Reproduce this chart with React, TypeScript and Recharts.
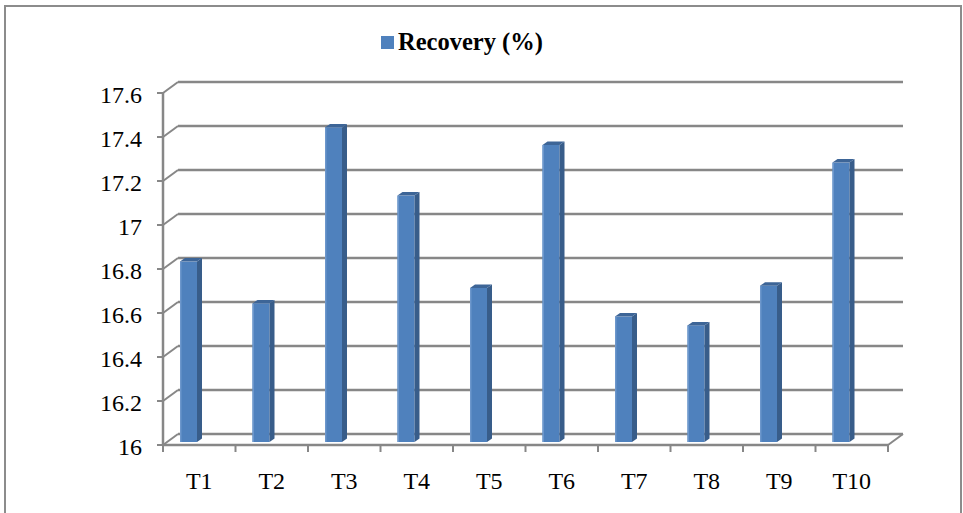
import React from 'react';
import { Bar, BarChart, CartesianGrid, Legend, XAxis, YAxis } from 'recharts';

const categories = ['T1', 'T2', 'T3', 'T4', 'T5', 'T6', 'T7', 'T8', 'T9', 'T10'];
const recovery = [16.82, 16.63, 17.43, 17.12, 16.7, 17.35, 16.57, 16.53, 16.71, 17.27];
const yTicks = [16, 16.2, 16.4, 16.6, 16.8, 17, 17.2, 17.4, 17.6];
const seriesName = 'Recovery (%)';

const data = categories.map((name, i) => ({ name, value: recovery[i] }));

// fake 3d: back wall sits up/right of the front axes
const DX = 15;
const DY = 11;
const LINE = '#878787';
const FONT = '"Liberation Serif", "Times New Roman", serif';
const PLOT_W = 725;
const BAND = PLOT_W / categories.length;

const fmt = (v: number) => String(Math.round(v * 10) / 10);

function BackGridLine(props: any) {
  const { x1, y1, x2, y2 } = props;
  return <line x1={x1 + DX} y1={y1 - DY} x2={x2 + DX} y2={y2 - DY} stroke={LINE} strokeWidth={2.5} />;
}

function YTick({ x, y, payload }: any) {
  return (
    <g>
      <line x1={x} y1={y} x2={x + DX} y2={y - DY} stroke={LINE} strokeWidth={2} />
      <line x1={x - 6} y1={y} x2={x} y2={y} stroke={LINE} strokeWidth={2} />
      <text x={x - 21} y={y + 10} textAnchor="end" fontSize={24} fontFamily={FONT} fill="#000">
        {fmt(payload.value)}
      </text>
    </g>
  );
}

function XTick({ x, y, payload }: any) {
  const half = BAND / 2;
  const isLast = payload.value === categories[categories.length - 1];
  return (
    <g>
      <line x1={x - half} y1={y} x2={x - half} y2={y + 7} stroke={LINE} strokeWidth={2} />
      {isLast && (
        <>
          <line x1={x + half} y1={y} x2={x + half} y2={y + 7} stroke={LINE} strokeWidth={2} />
          <line x1={x + half} y1={y} x2={x + half + DX} y2={y - DY} stroke={LINE} strokeWidth={2} />
        </>
      )}
      <text x={x} y={y + 44} textAnchor="middle" fontSize={24} fontFamily={FONT} fill="#000">
        {payload.value}
      </text>
    </g>
  );
}

function Column3D(props: any) {
  const { x, y, width, height } = props;
  const fx = x - 11;
  const top = y - 3;
  const bottom = y + height - 3;
  const d = 5;
  const up = 3.5;
  return (
    <g>
      <rect x={fx} y={top} width={width} height={bottom - top} fill="#4f81bd" />
      <rect x={fx} y={top} width={1.5} height={bottom - top} fill="#6d97cc" />
      <polygon
        points={`${fx + width},${top} ${fx + width + d},${top - up} ${fx + width + d},${bottom - up} ${fx + width},${bottom}`}
        fill="#385d8a"
      />
      <polygon
        points={`${fx},${top} ${fx + d},${top - up} ${fx + width + d},${top - up} ${fx + width},${top}`}
        fill="#3d6597"
      />
    </g>
  );
}

function LegendBox({ payload }: any) {
  return (
    <div style={{ display: 'flex', alignItems: 'center', fontFamily: FONT }}>
      {(payload || []).map((p: any) => (
        <div key={p.value} style={{ display: 'flex', alignItems: 'center' }}>
          <span style={{ width: 13, height: 13, background: '#4f81bd', marginRight: 4 }} />
          <span style={{ fontSize: 24.5, fontWeight: 'bold', lineHeight: '24px' }}>{p.value}</span>
        </div>
      ))}
    </div>
  );
}

export default function App() {
  return (
    <div style={{ position: 'absolute', left: 0, top: 0, width: 963, height: 513, overflow: 'hidden', background: '#fff' }}>
      <div
        style={{
          position: 'absolute',
          left: 4,
          top: 5,
          width: 954,
          height: 540,
          border: '2px solid #8c8c8c',
        }}
      />
      <div style={{ position: 'absolute', left: 0, top: 0 }}>
        <BarChart width={963} height={513} data={data} margin={{ top: 93, right: 75, bottom: 28, left: 83 }}>
          <CartesianGrid vertical={false} horizontal={BackGridLine} />
          <XAxis
            dataKey="name"
            height={40}
            interval={0}
            tickSize={0}
            tickMargin={0}
            tickLine={false}
            axisLine={{ stroke: LINE, strokeWidth: 2.5 }}
            tick={<XTick />}
          />
          <YAxis
            width={80}
            domain={[16, 17.6]}
            ticks={yTicks}
            interval={0}
            tickSize={0}
            tickMargin={0}
            tickLine={false}
            axisLine={{ stroke: LINE, strokeWidth: 2.5 }}
            tick={<YTick />}
          />
          <Legend
            layout="horizontal"
            verticalAlign="middle"
            align="center"
            content={<LegendBox />}
            wrapperStyle={{ top: 30, left: 381, width: 'auto' }}
          />
          <Bar dataKey="value" name={seriesName} barSize={17} shape={<Column3D />} isAnimationActive={false} />
        </BarChart>
      </div>
    </div>
  );
}
